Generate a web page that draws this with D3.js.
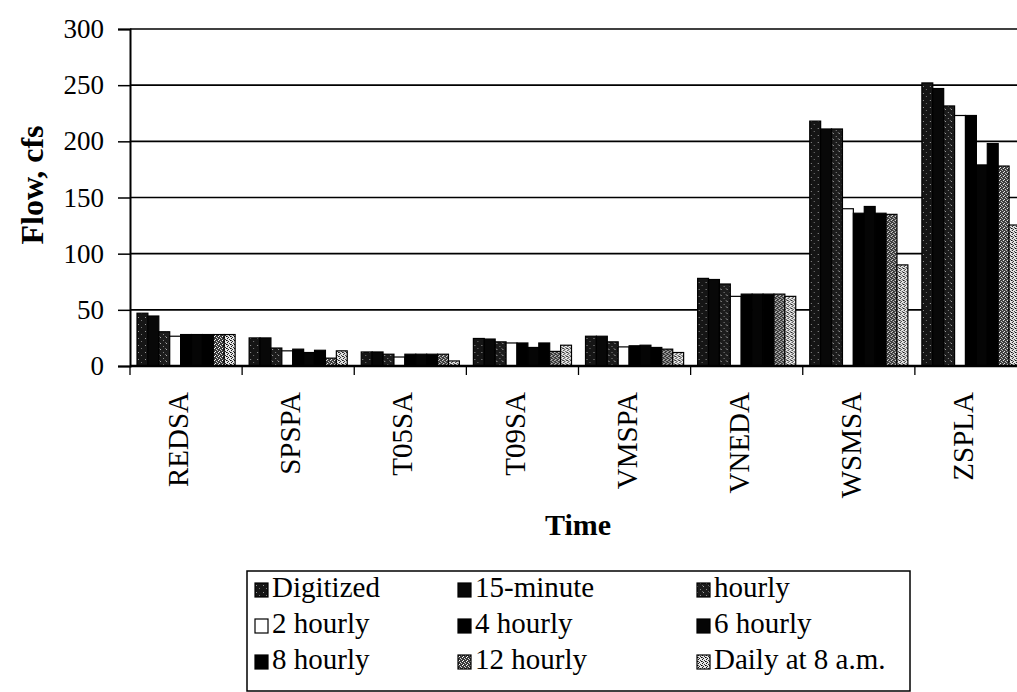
<!DOCTYPE html>
<html>
<head>
<meta charset="utf-8">
<script src="https://cdnjs.cloudflare.com/ajax/libs/d3/7.8.5/d3.min.js"></script>
<style>
  html, body { margin: 0; padding: 0; background: #fff; }
  svg { display: block; font-family: "Liberation Serif", "Times New Roman", serif; }
</style>
</head>
<body>
<svg id="chart" width="1017" height="692"></svg>
<script>
// stations along the x axis
var categories = ["REDSA", "SPSPA", "T05SA", "T09SA", "VMSPA", "VNEDA", "WSMSA", "ZSPLA"];
var seriesNames = ["Digitized", "15-minute", "hourly", "2 hourly", "4 hourly", "6 hourly", "8 hourly", "12 hourly", "Daily at 8 a.m."];

// flow, cfs (one value per station)
var digitized   = [47, 25, 12.5, 24.5, 26.5, 78, 218, 252];
var min15       = [44.5, 25, 12.5, 24, 26.5, 77, 211, 247];
var hourly      = [30.5, 16, 10.5, 21.5, 21.5, 73, 211, 231.5];
var hourly2     = [26.5, 13.5, 8, 20.5, 17, 62, 140, 223];
var hourly4     = [28, 15, 10.5, 20.5, 18, 64, 136, 223];
var hourly6     = [28, 12, 10.5, 16.5, 18.5, 64, 142, 179];
var hourly8     = [28, 14, 10.5, 20.5, 16.5, 64, 136, 198];
var hourly12    = [28, 7, 10.5, 13, 15, 64, 135, 178];
var daily8am    = [28, 13.5, 4.5, 18.5, 12, 62, 90, 125.5];

var yTicks = [0, 50, 100, 150, 200, 250, 300];

var seriesValues = [digitized, min15, hourly, hourly2, hourly4, hourly6, hourly8, hourly12, daily8am];

var svg = d3.select("svg#chart");

// patterns for the grey-ish bars of the scan
var defs = svg.append("defs");

function speck(id, bg, dots, size) {
  var p = defs.append("pattern")
      .attr("id", id)
      .attr("patternUnits", "userSpaceOnUse")
      .attr("width", size).attr("height", size);
  p.append("rect").attr("width", size).attr("height", size).attr("fill", bg);
  dots.forEach(function(d) {
    p.append("rect").attr("x", d[0]).attr("y", d[1]).attr("width", 1).attr("height", 1).attr("fill", d[2]);
  });
}
speck("pDig", "#151515", [[1, 2, "#999"], [4, 5, "#777"]], 7);
speck("pHour", "#1c1c1c", [[0, 1, "#aaa"], [3, 4, "#888"], [5, 0, "#666"]], 6);
speck("p12", "#3a3a3a", [[0, 0, "#fff"], [2, 1, "#ddd"], [1, 3, "#fff"], [3, 2, "#ccc"]], 4);
speck("pDaily", "#e6e6e6", [[0, 0, "#000"], [2, 1, "#222"], [1, 2, "#111"], [3, 3, "#333"], [1, 0, "#555"]], 4);

var fills = ["url(#pDig)", "#080808", "url(#pHour)", "#fff", "#000", "#050505", "#000", "url(#p12)", "url(#pDaily)"];

// plot area (right side runs off the picture, like the scan)
var plotLeft = 130, plotRight = 1027, plotTop = 29, plotBottom = 366;

var x0 = d3.scaleBand()
    .domain(categories)
    .range([plotLeft, plotRight])
    .padding(0);

var x1 = d3.scaleBand()
    .domain(seriesNames)
    .range([7, x0.bandwidth() - 7])
    .padding(0);

var y = d3.scaleLinear()
    .domain([0, 300])
    .range([plotBottom, plotTop]);

// gridlines
svg.append("g")
    .selectAll("line")
    .data(yTicks.filter(function(d) { return d > 0; }))
    .enter().append("line")
      .attr("x1", plotLeft).attr("x2", 1017)
      .attr("y1", function(d) { return y(d); })
      .attr("y2", function(d) { return y(d); })
      .attr("stroke", "#000")
      .attr("stroke-width", 1.6);

// y axis
var yAxis = svg.append("g")
    .attr("transform", "translate(" + plotLeft + ",0)")
    .call(d3.axisLeft(y).tickValues(yTicks).tickSize(12).tickPadding(14));
yAxis.select(".domain").attr("stroke-width", 2);
yAxis.selectAll(".tick line").attr("stroke-width", 1.5);
yAxis.selectAll("text")
    .attr("font-family", "Liberation Serif")
    .attr("font-size", 27)
    .attr("fill", "#000");

// bars
var groups = svg.append("g")
    .selectAll("g")
    .data(categories)
    .enter().append("g")
      .attr("transform", function(d) { return "translate(" + x0(d) + ",0)"; });

groups.selectAll("rect")
    .data(function(c, ci) {
      return seriesNames.map(function(s, si) { return {key: s, idx: si, value: seriesValues[si][ci]}; });
    })
    .enter().append("rect")
      .attr("x", function(d) { return x1(d.key); })
      .attr("width", x1.bandwidth())
      .attr("y", function(d) { return y(d.value); })
      .attr("height", function(d) { return y(0) - y(d.value); })
      .attr("fill", function(d) { return fills[d.idx]; })
      .attr("stroke", "#000")
      .attr("stroke-width", 1.2);

// x axis baseline + ticks between groups
svg.append("line")
    .attr("x1", plotLeft).attr("x2", 1017)
    .attr("y1", plotBottom).attr("y2", plotBottom)
    .attr("stroke", "#000").attr("stroke-width", 2.5);

svg.append("g")
    .selectAll("line")
    .data(categories)
    .enter().append("line")
      .attr("x1", function(d) { return x0(d); })
      .attr("x2", function(d) { return x0(d); })
      .attr("y1", plotBottom).attr("y2", plotBottom + 9)
      .attr("stroke", "#000").attr("stroke-width", 1.3);

// category labels, rotated
svg.append("g")
    .selectAll("text")
    .data(categories)
    .enter().append("text")
      .attr("transform", function(d) {
        return "translate(" + (x0(d) + x0.bandwidth() / 2 - 8) + "," + 392 + ") rotate(-90)";
      })
      .attr("text-anchor", "end")
      .attr("dy", "0.35em")
      .attr("font-size", 29)
      .text(function(d) { return d; });

// axis titles
svg.append("text")
    .attr("x", 578).attr("y", 535)
    .attr("text-anchor", "middle")
    .attr("font-size", 30)
    .attr("font-weight", "bold")
    .text("Time");

svg.append("text")
    .attr("transform", "translate(43,185) rotate(-90)")
    .attr("text-anchor", "middle")
    .attr("font-size", 32)
    .attr("font-weight", "bold")
    .text("Flow, cfs");

// legend, 3 columns x 3 rows
var legend = svg.append("g");
legend.append("rect")
    .attr("x", 247).attr("y", 571)
    .attr("width", 663).attr("height", 120)
    .attr("fill", "none")
    .attr("stroke", "#000")
    .attr("stroke-width", 1.5);

var colX = [255, 458, 697];
var rowY = [597, 633, 669];

var item = legend.selectAll("g.item")
    .data(seriesNames)
    .enter().append("g")
      .attr("class", "item")
      .attr("transform", function(d, i) {
        return "translate(" + colX[i % 3] + "," + rowY[Math.floor(i / 3)] + ")";
      });

item.append("rect")
    .attr("x", 0).attr("y", -14)
    .attr("width", 13).attr("height", 14)
    .attr("fill", function(d, i) { return fills[i]; })
    .attr("stroke", "#000")
    .attr("stroke-width", 1.2);

item.append("text")
    .attr("x", 17)
    .attr("y", 0)
    .attr("font-size", 29)
    .text(function(d) { return d; });
</script>
</body>
</html>
